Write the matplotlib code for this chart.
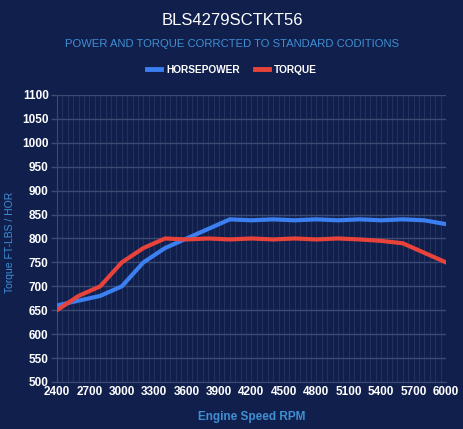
import numpy as np
import matplotlib.pyplot as plt
from matplotlib.lines import Line2D

# -----------------------------
# Dyno data
# -----------------------------
rpm = [2400, 2600, 2800, 3000, 3200, 3400, 3600, 3800, 4000, 4200,
       4400, 4600, 4800, 5000, 5200, 5400, 5600, 5800, 6000]
horsepower = [660, 670, 680, 700, 750, 780, 800, 820, 840, 838,
              840, 838, 840, 838, 840, 838, 840, 838, 830]
torque = [650, 680, 700, 750, 780, 800, 798, 800, 798, 800,
          798, 800, 798, 800, 798, 795, 790, 770, 750]
x_ticks = list(range(2400, 6001, 300))
y_ticks = list(range(500, 1101, 50))

bg = '#111f4d'
hp_color = '#3b7ff0'
tq_color = '#e8433a'
label_blue = '#3f8fd4'
grid_major = '#3c4a72'
grid_minor = '#22315e'

plt.rcParams['font.family'] = ['Liberation Sans', 'DejaVu Sans']

fig = plt.figure(figsize=(4.64, 4.29), dpi=100, facecolor=bg)
ax = fig.add_axes([0.1228, 0.1096, 0.8384, 0.669])
ax.set_facecolor(bg)

# minor vertical grid every 50 rpm
for xv in range(2400, 6001, 50):
    ax.axvline(xv, color=grid_minor, lw=0.8, zorder=0)
for yv in y_ticks:
    ax.axhline(yv, color=grid_major, lw=1.0, zorder=1)

ax.plot(rpm, horsepower, color=hp_color, lw=3, solid_joinstyle='miter', zorder=3)
ax.plot(rpm, torque, color=tq_color, lw=3, solid_joinstyle='miter', zorder=3)

ax.set_xlim(2400, 6000)
ax.set_ylim(500, 1100)
ax.set_xticks(x_ticks)
ax.set_yticks(y_ticks)
ax.tick_params(axis='x', length=0, pad=3, labelsize=8.5, colors='white')
ax.tick_params(axis='y', length=4, width=1, color=grid_major, pad=2,
               labelsize=8.5, colors='white')
for lab in ax.get_xticklabels() + ax.get_yticklabels():
    lab.set_fontweight('bold')
for side in ['top', 'right']:
    ax.spines[side].set_visible(False)
for side in ['left', 'bottom']:
    ax.spines[side].set_color(grid_major)

ax.set_xlabel('Engine Speed RPM', color=label_blue, fontsize=8.5,
              fontweight='bold', labelpad=9)
fig.text(10 / 464, 0.434, 'Torque FT-LBS / HOR', color=label_blue,
         fontsize=7.5, rotation=90, ha='center', va='center')

fig.text(0.5, 0.953, 'BLS4279SCTKT56', color='white', fontsize=12,
         ha='center', va='center')
fig.text(0.5, 0.897, 'POWER AND TORQUE CORRCTED TO STANDARD CODITIONS',
         color=label_blue, fontsize=8.1, ha='center', va='center')

handles = [Line2D([0], [0], color=hp_color, lw=3.5),
           Line2D([0], [0], color=tq_color, lw=3.5)]
leg = fig.legend(handles, ['HORSEPOWER', 'TORQUE'], loc='center',
                 bbox_to_anchor=(0.5, 0.837), ncol=2, frameon=False,
                 fontsize=7.3, handlelength=1.4, handletextpad=0.5,
                 columnspacing=1.5)
for t in leg.get_texts():
    t.set_color('white')
    t.set_fontweight('bold')

fig.savefig('out.png', dpi=100, facecolor=bg)
